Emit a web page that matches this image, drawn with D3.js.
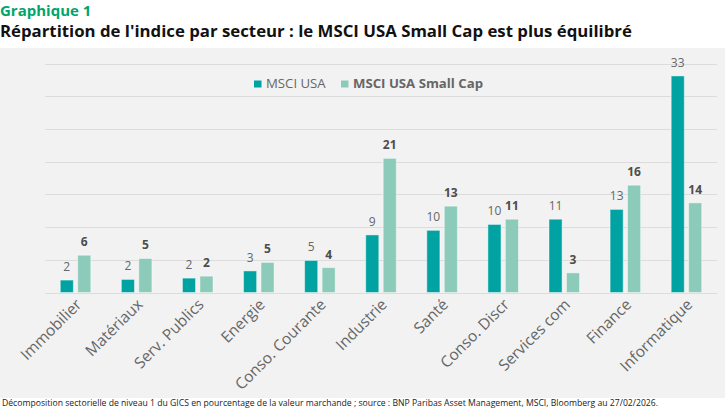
<!DOCTYPE html>
<html><head><meta charset="utf-8">
<script src="https://cdn.jsdelivr.net/npm/d3@7"></script>
<style>
html,body{margin:0;padding:0;background:#fff;}
svg{display:block;}
</style></head>
<body>
<svg id="c" width="725" height="409"></svg>
<script>
const categories = ["Immobilier","Matériaux","Serv. Publics","Energie","Conso. Courante","Industrie","Santé","Conso. Discr","Services com","Finance","Informatique"];
const seriesNames = ["MSCI USA","MSCI USA Small Cap"];
const msciUSA = [1.9, 2.0, 2.2, 3.3, 4.9, 8.8, 9.5, 10.4, 11.2, 12.7, 33.1];
const msciSmall = [5.7, 5.2, 2.5, 4.6, 3.8, 20.5, 13.2, 11.2, 3.0, 16.4, 13.7];
const labelsUSA = ["2","2","2","3","5","9","10","10","11","13","33"];
const labelsSmall = ["6","5","2","5","4","21","13","11","3","16","14"];
const yTicks = [0,5,10,15,20,25,30,35];

const colors = ["#00a3a1","#8ccbb9"];
const FONT = "'Open Sans', 'Noto Sans', sans-serif";

const svg = d3.select("#c");
svg.append("rect").attr("x",0).attr("y",48).attr("width",725).attr("height",350).attr("fill","#f2f2f2");

svg.append("text").attr("x",0).attr("y",16).text("Graphique 1")
  .attr("font-family",FONT).attr("font-weight","bold").attr("font-size",15).attr("fill","#00a56b");
svg.append("text").attr("x",0).attr("y",37).text("Répartition de l'indice par secteur : le MSCI USA Small Cap est plus équilibré")
  .attr("font-family",FONT).attr("font-weight","bold").attr("font-size",16.8).attr("fill","#111");

const x0 = d3.scaleBand().domain(categories).range([45,717]).paddingInner(0.5).paddingOuter(0.25);
const x1 = d3.scaleBand().domain(seriesNames).range([0,x0.bandwidth()]).paddingInner(0.25);
const y = d3.scaleLinear().domain([0,35]).range([292.5,63.5]);

const grid = svg.append("g");
grid.selectAll("line").data(yTicks).join("line")
  .attr("x1",45).attr("x2",717)
  .attr("y1",d=>Math.round(y(d))+0.5).attr("y2",d=>Math.round(y(d))+0.5)
  .attr("stroke","#dcdcdc").attr("stroke-width",1);

const data = categories.map((c,i)=>({cat:c, vals:[
  {s:seriesNames[0], v:msciUSA[i], l:labelsUSA[i]},
  {s:seriesNames[1], v:msciSmall[i], l:labelsSmall[i]}]}));

const groups = svg.append("g").selectAll("g").data(data).join("g")
  .attr("transform",d=>`translate(${x0(d.cat)},0)`);
groups.selectAll("rect").data(d=>d.vals).join("rect")
  .attr("x",d=>x1(d.s)).attr("width",x1.bandwidth())
  .attr("y",d=>y(d.v)).attr("height",d=>y(0)-y(d.v))
  .attr("fill",(d,i)=>colors[i])
  .attr("stroke","rgba(255,255,255,0.45)").attr("stroke-width",1);
groups.selectAll("text").data(d=>d.vals).join("text")
  .attr("x",d=>x1(d.s)+x1.bandwidth()/2).attr("y",d=>y(d.v)-9)
  .attr("text-anchor","middle")
  .attr("font-family",FONT).attr("font-size",12)
  .attr("font-weight",(d,i)=>i===1?"bold":"normal")
  .attr("fill",(d,i)=>i===1?"#4d4d4d":"#666")
  .text(d=>d.l);

// x axis labels
const xAxis = d3.axisBottom(x0).tickSize(0).tickPadding(0);
const ax = svg.append("g").attr("transform",`translate(0,${y(0)})`).call(xAxis);
ax.select(".domain").remove();
ax.selectAll("text")
  .attr("font-family",FONT).attr("font-size",15.5).attr("fill","#666")
  .attr("text-anchor","end").attr("dy",null)
  .attr("transform","translate(7,13) rotate(-45)");

// legend
const leg = svg.append("g");
const legPos = [{sx:254, tx:266},{sx:341, tx:353}];
seriesNames.forEach((s,i)=>{
  leg.append("rect").attr("x",legPos[i].sx).attr("y",80.5).attr("width",7.5).attr("height",7).attr("fill",colors[i]);
  leg.append("text").attr("x",legPos[i].tx).attr("y",87.5).text(s)
    .attr("font-family",FONT).attr("font-size",13.2).attr("fill","#666")
    .attr("font-weight",i===1?"bold":"normal");
});

svg.append("text").attr("x",2).attr("y",406)
  .text("Décomposition sectorielle de niveau 1 du GICS en pourcentage de la valeur marchande ; source : BNP Paribas Asset Management, MSCI, Bloomberg au 27/02/2026.")
  .attr("font-family",FONT).attr("font-size",9.3).attr("fill","#222")
  .attr("textLength",656).attr("lengthAdjust","spacingAndGlyphs");
</script>
</body></html>
